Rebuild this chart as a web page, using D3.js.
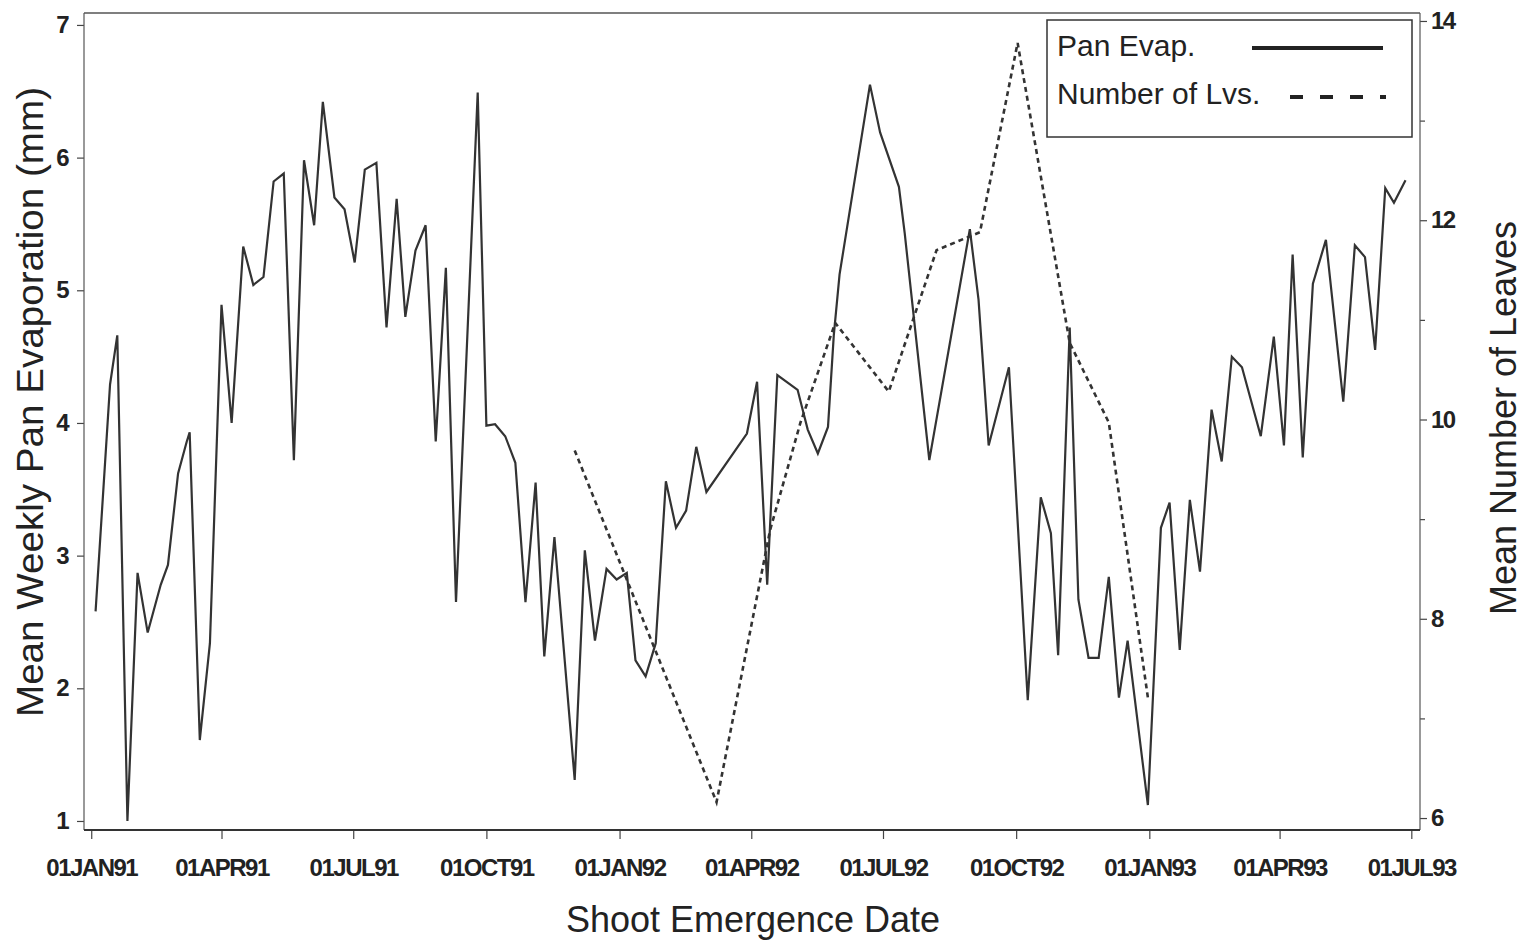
<!DOCTYPE html>
<html>
<head>
<meta charset="utf-8">
<script src="https://cdn.jsdelivr.net/npm/d3@7"></script>
<style>
body { margin: 0; background: #fff; }
svg text { font-family: "Liberation Sans", Arial, Helvetica, sans-serif; fill: #222; }
</style>
</head>
<body>
<div id="chart"></div>
<script>
// weekly pan evaporation (mm)
var panDates = [
    "1991-01-04", "1991-01-14", "1991-01-19", "1991-01-26", "1991-02-02", "1991-02-09", "1991-02-18", "1991-02-23",
    "1991-03-02", "1991-03-08", "1991-03-10", "1991-03-17", "1991-03-24", "1991-04-01", "1991-04-08", "1991-04-16",
    "1991-04-23", "1991-04-30", "1991-05-07", "1991-05-14", "1991-05-21", "1991-05-28", "1991-06-04", "1991-06-10",
    "1991-06-18", "1991-06-25", "1991-07-02", "1991-07-09", "1991-07-17", "1991-07-24", "1991-07-31", "1991-08-06",
    "1991-08-13", "1991-08-20", "1991-08-27", "1991-09-03", "1991-09-10", "1991-09-25", "1991-10-01", "1991-10-07",
    "1991-10-14", "1991-10-21", "1991-10-28", "1991-11-04", "1991-11-10", "1991-11-17", "1991-12-01", "1991-12-08",
    "1991-12-15", "1991-12-23", "1991-12-30", "1992-01-06", "1992-01-12", "1992-01-19", "1992-01-26", "1992-02-02",
    "1992-02-09", "1992-02-16", "1992-02-23", "1992-03-01", "1992-03-29", "1992-04-05", "1992-04-12", "1992-04-19",
    "1992-05-03", "1992-05-10", "1992-05-17", "1992-05-24", "1992-05-28", "1992-06-01", "1992-06-22", "1992-06-29",
    "1992-07-12", "1992-07-16", "1992-08-02", "1992-08-30", "1992-09-05", "1992-09-12", "1992-09-26", "1992-10-09",
    "1992-10-18", "1992-10-25", "1992-10-30", "1992-11-07", "1992-11-13", "1992-11-20", "1992-11-27", "1992-12-04",
    "1992-12-11", "1992-12-17", "1992-12-31", "1993-01-09", "1993-01-15", "1993-01-22", "1993-01-29", "1993-02-05",
    "1993-02-13", "1993-02-20", "1993-02-27", "1993-03-06", "1993-03-19", "1993-03-28", "1993-04-04", "1993-04-10",
    "1993-04-17", "1993-04-24", "1993-05-03", "1993-05-15", "1993-05-23", "1993-05-30", "1993-06-06", "1993-06-13",
    "1993-06-19", "1993-06-27"
];
var panValues = [
    2.58, 4.29, 4.66, 1.00, 2.87, 2.42, 2.78, 2.93,
    3.62, 3.86, 3.93, 1.61, 2.34, 4.89, 4.00, 5.33,
    5.04, 5.10, 5.82, 5.88, 3.72, 5.98, 5.49, 6.42,
    5.70, 5.61, 5.21, 5.91, 5.96, 4.72, 5.69, 4.80,
    5.30, 5.49, 3.86, 5.17, 2.65, 6.49, 3.98, 3.99,
    3.90, 3.70, 2.65, 3.55, 2.24, 3.14, 1.31, 3.04,
    2.36, 2.90, 2.82, 2.87, 2.21, 2.09, 2.34, 3.56,
    3.21, 3.34, 3.82, 3.48, 3.92, 4.31, 2.78, 4.36,
    4.25, 3.95, 3.77, 3.97, 4.66, 5.12, 6.55, 6.19,
    5.78, 5.43, 3.72, 5.46, 4.93, 3.83, 4.42, 1.91,
    3.44, 3.17, 2.25, 4.72, 2.67, 2.23, 2.23, 2.84,
    1.93, 2.36, 1.12, 3.21, 3.40, 2.29, 3.42, 2.88,
    4.10, 3.71, 4.50, 4.42, 3.90, 4.65, 3.83, 5.27,
    3.74, 5.05, 5.38, 4.16, 5.34, 5.25, 4.55, 5.77,
    5.66, 5.83
];

// mean number of leaves
var leafDates = [
    "1991-12-01", "1992-03-08", "1992-04-14", "1992-05-05", "1992-05-29", "1992-07-05",
    "1992-08-07", "1992-09-06", "1992-10-02", "1992-11-07", "1992-12-04", "1992-12-31"
];
var leafValues = [9.69, 6.16, 8.89, 9.97, 10.97, 10.28, 11.70, 11.88, 13.78, 10.77, 9.97, 7.21];

var evapTicks = [1, 2, 3, 4, 5, 6, 7];
var leafTicks = [6, 8, 10, 12, 14];
var leafMinorTicks = [7, 9, 11, 13];
var legendLabels = ["Pan Evap.", "Number of Lvs."];

var width = 1528, height = 945;
var plot = {left: 84, right: 1420, top: 13, bottom: 830};

var parse = d3.utcParse("%Y-%m-%d");
var monthFmt = d3.utcFormat("%d%b%y");

var svg = d3.select("#chart").append("svg")
    .attr("width", width)
    .attr("height", height);

var x = d3.scaleUtc()
    .domain([parse("1990-12-27"), parse("1993-07-07")])
    .range([plot.left, plot.right]);
var yEvap = d3.scaleLinear().domain([0.932, 7.09]).range([plot.bottom, plot.top]);
var yLeaf = d3.scaleLinear().domain([5.88, 14.08]).range([plot.bottom, plot.top]);

var panData = panDates.map(function(d, i) { return {date: parse(d), value: panValues[i]}; });
var leafData = leafDates.map(function(d, i) { return {date: parse(d), value: leafValues[i]}; });

// axes
var tickFont = function(g) {
    g.select(".domain").remove();
    g.selectAll("line").attr("stroke", "#444").attr("stroke-width", 1.2);
    g.selectAll("text")
        .style("font-size", "24px")
        .style("font-weight", "bold")
        .style("letter-spacing", "-1.5px")
        .attr("fill", "#222");
};

var xAxis = d3.axisBottom(x)
    .tickValues(d3.utcMonth.every(3).range(parse("1991-01-01"), parse("1993-07-02")))
    .tickFormat(function(d) { return monthFmt(d).toUpperCase(); })
    .tickSize(9)
    .tickPadding(20);
svg.append("g").attr("transform", "translate(0," + plot.bottom + ")").call(xAxis).call(tickFont);

var leftAxis = d3.axisLeft(yEvap).tickValues(evapTicks).tickFormat(d3.format("d")).tickSize(7).tickPadding(9);
svg.append("g").attr("transform", "translate(" + plot.left + ",0)").call(leftAxis).call(tickFont);

var rightAxis = d3.axisRight(yLeaf).tickValues(leafTicks).tickFormat(d3.format("d")).tickSize(7).tickPadding(4);
svg.append("g").attr("transform", "translate(" + plot.right + ",0)").call(rightAxis).call(tickFont);

var rightMinor = d3.axisRight(yLeaf).tickValues(leafMinorTicks).tickSize(5).tickFormat("");
svg.append("g").attr("transform", "translate(" + plot.right + ",0)").call(rightMinor).call(tickFont);

// frame
var frame = svg.append("g").attr("fill", "none").attr("stroke", "#555");
frame.append("line").attr("x1", plot.left).attr("x2", plot.right).attr("y1", plot.top).attr("y2", plot.top).attr("stroke-width", 1.5);
frame.append("line").attr("x1", plot.left).attr("x2", plot.left).attr("y1", plot.top).attr("y2", plot.bottom).attr("stroke-width", 1.2);
frame.append("line").attr("x1", plot.right).attr("x2", plot.right).attr("y1", plot.top).attr("y2", plot.bottom).attr("stroke-width", 1.2);
frame.append("line").attr("x1", plot.left).attr("x2", plot.right).attr("y1", plot.bottom).attr("y2", plot.bottom)
    .attr("stroke", "#333").attr("stroke-width", 2);

// series
var evapLine = d3.line()
    .x(function(d) { return x(d.date); })
    .y(function(d) { return yEvap(d.value); });
var leafLine = d3.line()
    .x(function(d) { return x(d.date); })
    .y(function(d) { return yLeaf(d.value); });

svg.append("path")
    .datum(panData)
    .attr("d", evapLine)
    .attr("fill", "none")
    .attr("stroke", "#333")
    .attr("stroke-width", 2.2)
    .attr("stroke-linejoin", "miter");

svg.append("path")
    .datum(leafData)
    .attr("d", leafLine)
    .attr("fill", "none")
    .attr("stroke", "#333")
    .attr("stroke-width", 2.6)
    .attr("stroke-dasharray", "5,4");

// legend
var legend = svg.append("g");
legend.append("rect")
    .attr("x", 1047).attr("y", 20)
    .attr("width", 365).attr("height", 117)
    .attr("fill", "#fff")
    .attr("stroke", "#333")
    .attr("stroke-width", 1.5);
legend.selectAll("text.lg")
    .data(legendLabels)
    .enter()
    .append("text")
    .attr("class", "lg")
    .attr("x", 1057)
    .attr("y", function(d, i) { return 56 + i * 48; })
    .style("font-size", "30px")
    .text(function(d) { return d; });
legend.append("line")
    .attr("x1", 1252).attr("x2", 1383).attr("y1", 48).attr("y2", 48)
    .attr("stroke", "#222").attr("stroke-width", 4);
legend.append("line")
    .attr("x1", 1290).attr("x2", 1386).attr("y1", 97).attr("y2", 97)
    .attr("stroke", "#222").attr("stroke-width", 4)
    .attr("stroke-dasharray", "13,17");

// axis titles
svg.append("text")
    .attr("transform", "translate(43,402) rotate(-90)")
    .attr("text-anchor", "middle")
    .attr("textLength", 630)
    .attr("lengthAdjust", "spacingAndGlyphs")
    .style("font-size", "37px")
    .text("Mean Weekly Pan Evaporation (mm)");

svg.append("text")
    .attr("transform", "translate(1516,418) rotate(-90)")
    .attr("text-anchor", "middle")
    .style("font-size", "36px")
    .text("Mean Number of Leaves");

svg.append("text")
    .attr("x", 753)
    .attr("y", 932)
    .attr("text-anchor", "middle")
    .style("font-size", "36px")
    .text("Shoot Emergence Date");
</script>
</body>
</html>
